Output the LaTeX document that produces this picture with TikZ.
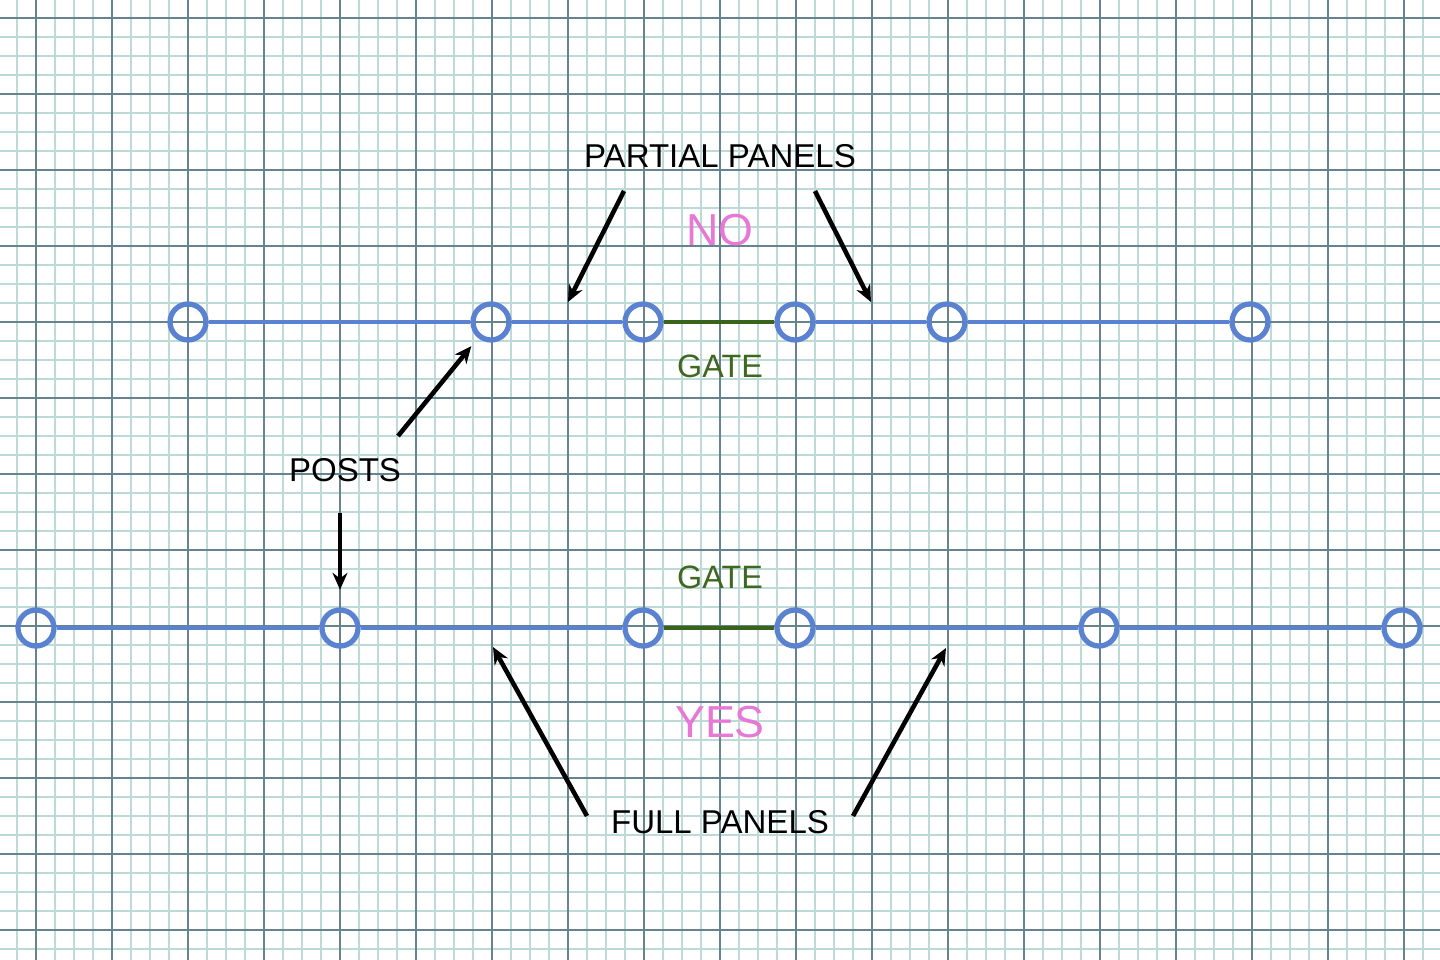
\documentclass[tikz,border=0pt]{standalone}
\usepackage{fontspec}
\setmainfont{Liberation Sans}
\usepackage{tikz}
\usepackage{xcolor}
\usetikzlibrary{arrows.meta, positioning}

\definecolor{postblue}{RGB}{90,130,208}
\definecolor{gategreen}{RGB}{58,100,28}
\definecolor{gatetext}{RGB}{62,104,32}
\definecolor{markpink}{RGB}{232,120,214}
\definecolor{gridminor}{RGB}{190,218,214}
\definecolor{gridmajor}{RGB}{100,132,144}

\begin{document}
\begin{tikzpicture}[
    x=0.02cm, y=-0.02cm,
    post/.style={circle, draw=postblue, line width=3pt, minimum size=0.72cm, inner sep=0pt},
    fence/.style={draw=postblue, line width=2.8pt},
    gateline/.style={draw=gategreen, line width=2.8pt},
    note/.style={font=\fontsize{18.8}{21}\selectfont, text=black, inner sep=1pt},
    gatenote/.style={font=\fontsize{18.4}{21}\selectfont, text=gatetext, inner sep=1pt},
    verdict/.style={font=\fontsize{25.5}{28}\selectfont, text=markpink, inner sep=1pt},
    arrow/.style={-{Stealth[length=3.4mm, width=3mm]}, line width=2.6pt, black},
    minor/.style={draw=gridminor, line width=0.8pt},
    major/.style={draw=gridmajor, line width=1.1pt}
]

% Paper
\fill[white] (0,0) rectangle (1440,960);
\useasboundingbox (0,0) rectangle (1440,960);
\foreach \x in {17,36,...,1440} \draw[minor] (\x,0) -- (\x,960);
\foreach \y in {18,37,...,960} \draw[minor] (0,\y) -- (1440,\y);
\foreach \x in {36,112,...,1440} \draw[major] (\x,0) -- (\x,960);
\foreach \y in {18,94,...,960} \draw[major] (0,\y) -- (1440,\y);

% Top fence
\node[post] (t1) at (188,322) {};
\node[post] (t2) at (491,322) {};
\node[post] (t3) at (643,322) {};
\node[post] (t4) at (795,322) {};
\node[post] (t5) at (947,322) {};
\node[post] (t6) at (1250,322) {};

% Bottom fence
\node[post] (b1) at (36,628) {};
\node[post] (b2) at (340,628) {};
\node[post] (b3) at (643,628) {};
\node[post] (b4) at (795,628) {};
\node[post] (b5) at (1099,628) {};
\node[post] (b6) at (1402,628) {};

\draw[fence] (t1) -- (t2) -- (t3);
\draw[gateline] (t3) -- (t4);
\draw[fence] (t4) -- (t5) -- (t6);

\draw[fence] (b1) -- (b2) -- (b3);
\draw[gateline] (b3) -- (b4);
\draw[fence] (b4) -- (b5) -- (b6);

% Labels
\node[note] (partial) at (720,156) {PARTIAL PANELS};
\node[verdict] (no) at (720,230) {NO};
\node[gatenote] (gatetop) at (720,366) {GATE};
\node[note] (posts) at (345,470) {POSTS};
\node[gatenote] (gatebot) at (720,577) {GATE};
\node[verdict] (yes) at (720,722) {YES};
\node[note] (full) at (720,822) {FULL PANELS};

% Arrow ends
\coordinate (pl0) at (624,191);
\coordinate (pl1) at (568,302);
\coordinate (pr0) at (815,191);
\coordinate (pr1) at (871,302);
\coordinate (pu0) at (398,436);
\coordinate (pd0) at (340,513);
\coordinate (fl0) at (587,816);
\coordinate (fl1) at (493,647);
\coordinate (fr0) at (853,816);
\coordinate (fr1) at (946,648);

% Arrows
\draw[arrow] (pl0) -- (pl1);
\draw[arrow] (pr0) -- (pr1);
\draw[arrow, shorten >=6pt] (pu0) -- (t2);
\draw[arrow, shorten >=10pt] (pd0) -- (b2);
\draw[arrow] (fl0) -- (fl1);
\draw[arrow] (fr0) -- (fr1);

\end{tikzpicture}
\end{document}
